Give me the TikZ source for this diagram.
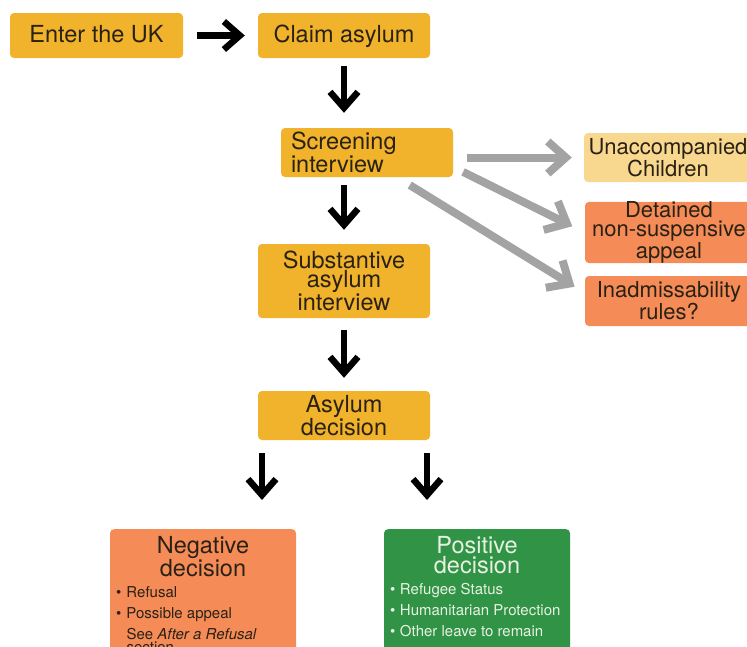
\documentclass[tikz,border=0pt]{standalone}
\usepackage{fontspec}
\setmainfont{TeX Gyre Heros}
\usetikzlibrary{arrows.meta}

\definecolor{stepyellow}{HTML}{F1B32B}
\definecolor{paleyellow}{HTML}{F8D88E}
\definecolor{boxorange}{HTML}{F58C57}
\definecolor{boxgreen}{HTML}{309346}
\definecolor{arrowgray}{HTML}{A3A3A3}
\definecolor{stagetext}{HTML}{2A2115}
\definecolor{poslight}{HTML}{E8F2E2}

\tikzset{
  stage/.style={fill=stepyellow, rounded corners=4pt, inner sep=0pt, minimum width=172pt,
    minimum height=49pt, align=center, text=stagetext, font=\fontsize{23.5}{19.5}\selectfont},
  oneline/.style={minimum height=45pt, text height=17.5pt, text depth=4.5pt},
  route/.style={stage, minimum width=168pt, font=\fontsize{22}{18.5}\selectfont},
  outcome/.style={rounded corners=4pt, inner sep=0pt, anchor=north},
  flow/.style={line width=6.5pt, -{Straight Barb[length=16pt,width=28pt]}},
  branch/.style={line width=8pt, draw=arrowgray, -{Straight Barb[length=18pt,width=32pt]}},
}

\begin{document}
\begin{tikzpicture}[x=1pt,y=-1pt]
  \useasboundingbox (0,0) rectangle (747,646);
  \clip (0,0) rectangle (747,646);

  % main steps
  \node[stage, oneline, minimum width=173pt] (enter) at (96.5,35.5) {Enter the UK};
  \node[stage, oneline] (claim) at (344,35.5) {Claim asylum};
  \node[stage, text width=152pt, inner xsep=10pt, align=left] (screen) at (367,152.5) {Screening\\interview};
  \node[stage, minimum height=74pt] (subst) at (344,281) {Substantive\\asylum\\interview};
  \node[stage] (decide) at (344,415.5) {Asylum\\decision};

  % side routes
  \node[route, fill=paleyellow] (unacc) at (668,157.5) {Unaccompanied\\Children};
  \node[route, fill=boxorange, minimum height=59pt] (detain) at (669,232.5) {Detained\\non-suspensive\\appeal};
  \node[route, fill=boxorange, minimum height=50pt] (inadm) at (669,301) {Inadmissability\\rules?};

  % outcomes
  \node[outcome, fill=boxorange, text=stagetext] (neg) at (203,529) {\begin{minipage}[t]{186pt}
      \centering\fontsize{23.5}{20}\selectfont\rule{0pt}{24pt}Negative\\decision\par
      \raggedright\fontsize{15}{21}\selectfont\leftskip=6pt
      \makebox[10.5pt][l]{\textbullet}Refusal\par
      \makebox[10.5pt][l]{\textbullet}Possible appeal\par
      \leftskip=16.5pt See \textit{After a Refusal}\\[-8.3pt]section\rule[-8pt]{0pt}{0pt}
    \end{minipage}};
  \node[outcome, fill=boxgreen, text=poslight] (pos) at (477,529) {\begin{minipage}[t]{186pt}
      \centering\fontsize{23.5}{20}\selectfont\rule{0pt}{24pt}Positive\\decision\par
      \raggedright\fontsize{15}{21}\selectfont\leftskip=6pt
      \makebox[10pt][l]{\textbullet}Refugee Status\par
      \makebox[10pt][l]{\textbullet}Humanitarian Protection\par
      \makebox[10pt][l]{\textbullet}Other leave to remain\rule[-18pt]{0pt}{0pt}
    \end{minipage}};

  % black arrows
  \draw[flow, shorten <=14pt, shorten >=13pt] (enter) -- (claim);
  \draw[flow, shorten <=8pt, shorten >=15pt] (claim.south) -- (claim.south |- screen.north);
  \draw[flow, shorten <=8pt, shorten >=14pt] (subst.north |- screen.south) -- (subst.north);
  \draw[flow, shorten <=12pt, shorten >=13pt] (subst) -- (decide);
  \draw[flow, shorten <=13pt, shorten >=29pt] ([xshift=-82pt]decide.south) -- ([xshift=-82pt]decide.south |- neg.north);
  \draw[flow, shorten <=13pt, shorten >=29pt] ([xshift=83pt]decide.south) -- ([xshift=83pt]decide.south |- pos.north);

  % grey arrows
  \draw[branch, shorten <=14pt, shorten >=12pt] (screen.east |- unacc.west) -- (unacc.west);
  \draw[branch, shorten <=11pt, shorten >=14pt] ([yshift=-14.5pt]screen.east) -- (detain.west);
  \draw[branch, shorten <=15pt, shorten >=12pt] ([xshift=30pt]screen.south) -- ([yshift=8pt]inadm.west);
\end{tikzpicture}
\end{document}
